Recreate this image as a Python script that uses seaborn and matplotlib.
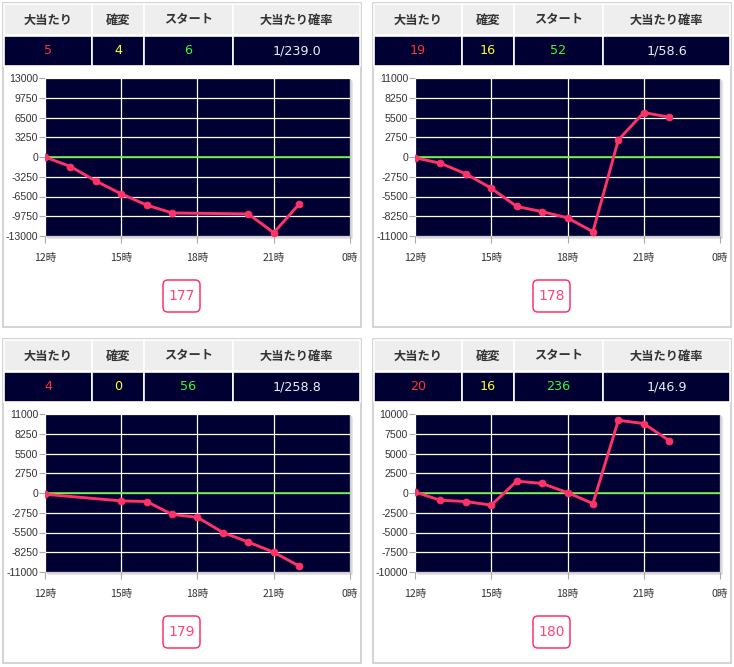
import numpy as np
import pandas as pd
import matplotlib
matplotlib.use("Agg")
import matplotlib.pyplot as plt
from matplotlib.patches import Rectangle, FancyBboxPatch
import seaborn as sns

# ---------------- data ----------------
hours_1 = [12, 13, 14, 15, 16, 17, 20, 21, 22]
vals_1 = [0, -1570, -3950, -6070, -7910, -9210, -9370, -12460, -7750]
hours_2 = [12, 13, 14, 15, 16, 17, 18, 19, 20, 21, 22]
vals_2 = [-100, -870, -2340, -4350, -6880, -7610, -8480, -10400, 2380, 6190, 5550]
hours_3 = [12, 15, 16, 17, 18, 19, 20, 21, 22]
vals_3 = [-180, -1100, -1190, -2980, -3390, -5500, -6830, -8250, -10170]
hours_4 = [12, 13, 14, 15, 16, 17, 18, 19, 20, 21, 22]
vals_4 = [120, -920, -1080, -1540, 1500, 1210, 40, -1330, 9210, 8790, 6630]

y_limits = [13000, 11000, 11000, 10000]
header_labels = ["大当たり", "確変", "スタート", "大当たり確率"]
big_hits = ["5", "19", "4", "20"]
kakuhen = ["4", "16", "0", "16"]
starts = ["6", "52", "56", "236"]
probs = ["1/239.0", "1/58.6", "1/258.8", "1/46.9"]
machine_nos = ["177", "178", "179", "180"]
x_ticks = [12, 15, 18, 21, 24]
x_tick_labels = ["12時", "15時", "18時", "21時", "0時"]

series = [(hours_1, vals_1), (hours_2, vals_2), (hours_3, vals_3), (hours_4, vals_4)]

# ---------------- style ----------------
sns.set_style("white")
plt.rcParams["font.family"] = ["Noto Sans CJK JP", "DejaVu Sans"]

W, H = 734, 667
fig = plt.figure(figsize=(W / 100, H / 100), dpi=100)


def frect(x, y, w, h):
    return [x / W, 1 - (y + h) / H, w / W, h / H]


bg = fig.add_axes([0, 0, 1, 1])
bg.set_xlim(0, W)
bg.set_ylim(H, 0)
bg.axis("off")

NAVY = "#000033"
LINE = "#ff3366"
cols = [0, 88, 140, 229, 356]  # relative column boundaries
val_colors = ["#ff3333", "#ffff33", "#33ff33", "#eeeeff"]

for i in range(4):
    c, r = i % 2, i // 2
    x0 = 3 + c * 370
    y0 = 3 + r * 336
    # panel border
    bg.add_patch(Rectangle((x0, y0), 358, 324, facecolor="white",
                           edgecolor="#cccccc", lw=1.2, zorder=0))
    # table
    tx = x0 + 1
    for j in range(4):
        cx0 = tx + cols[j]
        cw = cols[j + 1] - cols[j]
        bg.add_patch(Rectangle((cx0, y0 + 1), cw, 31, facecolor="#eeeeee",
                               edgecolor="white", lw=1.2, zorder=1))
        bg.add_patch(Rectangle((cx0, y0 + 33), cw, 30, facecolor=NAVY,
                               edgecolor="white", lw=1.2, zorder=1))
        bg.text(cx0 + cw / 2, y0 + 17, header_labels[j], ha="center", va="center",
                fontsize=8.8, color="#333333", fontweight="bold", zorder=2)
    row_vals = [big_hits[i], kakuhen[i], starts[i], probs[i]]
    for j in range(4):
        cx0 = tx + cols[j]
        cw = cols[j + 1] - cols[j]
        bg.text(cx0 + cw / 2, y0 + 48, row_vals[j], ha="center", va="center",
                fontsize=9.2, color=val_colors[j],
                family=["DejaVu Sans"], zorder=2)

    # shadow of the plot area
    px, py, pw, ph = x0 + 42, y0 + 75, 305, 158
    for k, colr in enumerate(["#e6e6e6", "#d8d8d8", "#cccccc"]):
        off = 3 - k
        bg.add_patch(Rectangle((px + off, py + off), pw, ph, facecolor=colr,
                               edgecolor="none", zorder=1))

    # machine number box
    bx, by = x0 + 160, y0 + 277
    bg.add_patch(FancyBboxPatch((bx, by), 37, 32,
                                boxstyle="round,pad=0,rounding_size=5",
                                facecolor="white", edgecolor=LINE, lw=1.1, zorder=2))
    bg.text(bx + 18.5, by + 16.5, machine_nos[i], ha="center", va="center",
            fontsize=10, color="#ff4477", family=["DejaVu Sans"], zorder=3)

    # chart
    ax = fig.add_axes(frect(px, py, pw, ph))
    ax.set_facecolor(NAVY)
    hrs, vals = series[i]
    df = pd.DataFrame({"hour": hrs, "value": vals})
    lim = y_limits[i]
    yt = np.linspace(-lim, lim, 9)
    ax.set_xlim(12, 24)
    ax.set_ylim(-lim, lim)
    ax.set_yticks(yt)
    ax.set_yticklabels([f"{int(v)}" for v in yt], family=["Liberation Sans", "DejaVu Sans"],
                       fontsize=7.6, color="#333333")
    ax.set_xticks(x_ticks)
    ax.set_xticklabels(x_tick_labels, fontsize=7.6, color="#333333")
    ax.grid(True, color="white", lw=0.9)
    ax.axhline(0, color="#66ee33", lw=1.2, zorder=2)
    sns.lineplot(data=df, x="hour", y="value", ax=ax, color=LINE, lw=2.1,
                 marker="o", markersize=4.8, markeredgecolor=LINE, zorder=3)
    ax.set_xlabel("")
    ax.set_ylabel("")
    for s in ax.spines.values():
        s.set_visible(False)
    ax.tick_params(axis="y", length=4, width=0.8, color="#aaaaaa", pad=1, left=True)
    ax.tick_params(axis="x", length=5, width=0.8, color="#aaaaaa", pad=7, bottom=True)

fig.savefig("out.png", dpi=100)
